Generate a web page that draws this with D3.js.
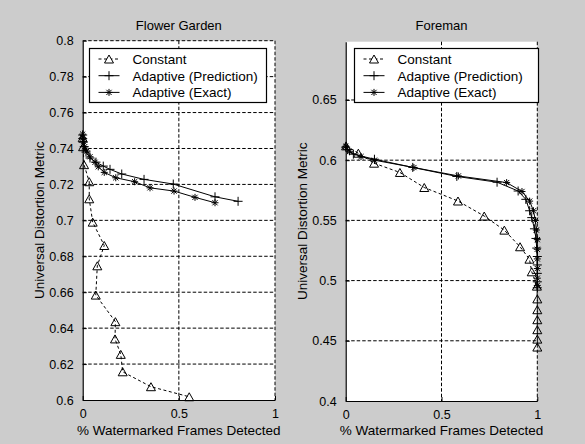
<!DOCTYPE html>
<html>
<head>
<meta charset="utf-8">
<script src="https://cdn.jsdelivr.net/npm/d3@7"></script>
<style>
  html, body { margin: 0; padding: 0; background: #cccccc; }
  svg { display: block; font-family: "Liberation Sans", Arial, sans-serif; }
</style>
</head>
<body>
<svg id="chart" width="585" height="444"></svg>
<script>
// Data
const seriesNames = ["Constant", "Adaptive (Prediction)", "Adaptive (Exact)"];
const xTicks = [0, 0.5, 1];
const xTickLabels = ["0", "0.5", "1"];
const xTitle = "% Watermarked Frames Detected";
const yTitle = "Universal Distortion Metric";

const gardenYTicks = [0.6, 0.62, 0.64, 0.66, 0.68, 0.7, 0.72, 0.74, 0.76, 0.78, 0.8];
const gardenYTickLabels = ["0.6", "0.62", "0.64", "0.66", "0.68", "0.7", "0.72", "0.74", "0.76", "0.78", "0.8"];
const gardenConstant = [
  [0, 0.746], [0.002, 0.741], [0.007, 0.731], [0.034, 0.7215], [0.034, 0.712],
  [0.052, 0.699], [0.112, 0.686], [0.076, 0.6747], [0.068, 0.6584], [0.17, 0.6436],
  [0.168, 0.634], [0.198, 0.6254], [0.208, 0.6157], [0.355, 0.6074], [0.554, 0.6018]
];
const gardenPrediction = [
  [0, 0.7475], [0, 0.7455], [0.003, 0.7435], [0.008, 0.741], [0.017, 0.738],
  [0.038, 0.7347], [0.069, 0.7324], [0.107, 0.7302], [0.142, 0.7284], [0.203, 0.7258],
  [0.319, 0.7228], [0.471, 0.7202], [0.688, 0.7131], [0.808, 0.7106]
];
const gardenExact = [
  [0, 0.748], [0, 0.746], [0.004, 0.744], [0.01, 0.741], [0.022, 0.7386],
  [0.038, 0.7354], [0.064, 0.7323], [0.081, 0.7298], [0.112, 0.7267], [0.172, 0.7237],
  [0.27, 0.7215], [0.35, 0.7181], [0.475, 0.7163], [0.584, 0.7128], [0.688, 0.7098]
];

const foremanYTicks = [0.4, 0.45, 0.5, 0.55, 0.6, 0.65];
const foremanYTickLabels = ["0.4", "0.45", "0.5", "0.55", "0.6", "0.65"];
const foremanConstant = [
  [0.002, 0.6119], [0.066, 0.6058], [0.148, 0.5975], [0.283, 0.5898], [0.41, 0.5773],
  [0.586, 0.5661], [0.723, 0.5536], [0.828, 0.5419], [0.91, 0.5281], [0.959, 0.5178],
  [0.971, 0.5073], [0.998, 0.4954], [1, 0.4848], [1, 0.4758], [1, 0.4675],
  [1, 0.4592], [1, 0.4514], [1, 0.4448]
];
const foremanPrediction = [
  [0, 0.6108], [0.01, 0.609], [0.04, 0.605], [0.15, 0.6008], [0.35, 0.594],
  [0.58, 0.5865], [0.79, 0.5817], [0.9, 0.5744], [0.94, 0.5675], [0.96, 0.558],
  [0.971, 0.5523], [0.985, 0.543], [0.993, 0.535], [0.997, 0.527], [1, 0.52],
  [1, 0.513], [1, 0.506], [1, 0.499], [1, 0.494]
];
const foremanExact = [
  [0, 0.6115], [0.02, 0.607], [0.08, 0.603], [0.15, 0.6], [0.356, 0.5939],
  [0.588, 0.5869], [0.84, 0.5814], [0.92, 0.574], [0.96, 0.566], [0.98, 0.558],
  [0.99, 0.55], [0.995, 0.542], [1, 0.534], [1, 0.526], [1, 0.518],
  [1, 0.51], [1, 0.502], [1, 0.496]
];

const svg = d3.select("#chart");

// marker shapes (MATLAB-ish ^, + and *)
const markers = {
  tri: "M0,-4L4.5,4L-4.5,4Z",
  plus: "M-4.5,0H4.5M0,-4.5V4.5",
  star: "M-3.5,0H3.5M0,-3.5V3.5M-2.6,-2.6L2.6,2.6M-2.6,2.6L2.6,-2.6"
};
const styles = [
  { marker: markers.tri, dash: "3,2.5" },
  { marker: markers.plus, dash: null },
  { marker: markers.star, dash: null }
];

function drawPanel(p) {
  const x = d3.scaleLinear().domain([0, 1]).range([p.left, p.right]);
  const y = d3.scaleLinear().domain(p.yDomain).range([p.bottom, p.top]);
  const g = svg.append("g");

  g.append("rect")
    .attr("x", p.left).attr("y", p.top)
    .attr("width", p.right - p.left).attr("height", p.bottom - p.top)
    .attr("fill", "white");

  // grid
  g.selectAll(".hgrid")
    .data(p.yTicks.filter((t) => t !== p.yDomain[0]))
    .enter().append("line")
    .attr("x1", p.left).attr("x2", p.right)
    .attr("y1", (d) => y(d)).attr("y2", (d) => y(d))
    .attr("stroke", "black").attr("stroke-dasharray", "3.5,2");
  g.selectAll(".vgrid")
    .data(xTicks.filter((t) => t !== 0))
    .enter().append("line")
    .attr("x1", (d) => x(d)).attr("x2", (d) => x(d))
    .attr("y1", p.top).attr("y2", p.bottom)
    .attr("stroke", "black").attr("stroke-dasharray", "3.5,2");

  // axes (ticks point inwards)
  const yAxis = d3.axisLeft(y).tickValues(p.yTicks)
    .tickFormat((d, i) => p.yTickLabels[i]).tickSizeInner(-4).tickSizeOuter(0).tickPadding(9);
  const xAxis = d3.axisBottom(x).tickValues(xTicks)
    .tickFormat((d, i) => xTickLabels[i]).tickSizeInner(-4).tickSizeOuter(0).tickPadding(9);

  const ya = g.append("g").attr("transform", `translate(${p.left},0)`).call(yAxis);
  const xa = g.append("g").attr("transform", `translate(0,${p.bottom})`).call(xAxis);
  [ya, xa].forEach((a) => {
    a.select(".domain").attr("stroke", "black").attr("stroke-width", 1.2);
    a.selectAll(".tick line").attr("stroke", "black");
    a.selectAll("text").attr("font-size", 12.5).attr("fill", "black")
      .attr("font-family", "'Liberation Sans', Arial, sans-serif");
  });

  // series
  const line = d3.line().x((d) => x(d[0])).y((d) => y(d[1]));
  p.series.forEach((s, i) => {
    const st = styles[i];
    g.append("path").datum(s)
      .attr("d", line).attr("fill", "none").attr("stroke", "black")
      .attr("stroke-width", 1)
      .attr("stroke-dasharray", st.dash);
    g.selectAll(null).data(s).enter().append("path")
      .attr("d", st.marker)
      .attr("transform", (d) => `translate(${x(d[0])},${y(d[1])})`)
      .attr("fill", "none").attr("stroke", "black").attr("stroke-width", 1);
  });

  // title and labels
  g.append("text").attr("x", (p.left + p.right) / 2).attr("y", 29.5)
    .attr("text-anchor", "middle").attr("font-size", 13).text(p.title);
  g.append("text").attr("x", (p.left + p.right) / 2).attr("y", 435)
    .attr("text-anchor", "middle").attr("font-size", 13.5).text(xTitle);
  g.append("text")
    .attr("transform", `translate(${p.yTitleX},${(p.top + p.bottom) / 2}) rotate(-90)`)
    .attr("text-anchor", "middle").attr("font-size", 13.5).text(yTitle);

  // legend
  const lg = g.append("g").attr("transform", `translate(${p.legendX},48.5)`);
  lg.append("rect").attr("width", p.legendW).attr("height", 54)
    .attr("fill", "white").attr("stroke", "black").attr("stroke-width", 1.2);
  seriesNames.forEach((name, i) => {
    const ry = 10.5 + i * 16.7;
    const st = styles[i];
    lg.append("line").attr("x1", 9).attr("x2", 30).attr("y1", ry).attr("y2", ry)
      .attr("stroke", "black").attr("stroke-dasharray", st.dash);
    lg.append("path").attr("d", st.marker)
      .attr("transform", `translate(19.5,${ry})`)
      .attr("fill", i === 0 ? "white" : "none").attr("stroke", "black");
    lg.append("text").attr("x", 43).attr("y", ry + 4.8)
      .attr("font-size", 13.5).text(name);
  });
}

drawPanel({
  title: "Flower Garden",
  left: 82.7, right: 275, top: 40.7, bottom: 400,
  yDomain: [0.6, 0.8], yTicks: gardenYTicks, yTickLabels: gardenYTickLabels,
  series: [gardenConstant, gardenPrediction, gardenExact],
  yTitleX: 44, legendX: 89.5, legendW: 177
});

drawPanel({
  title: "Foreman",
  left: 345.7, right: 537.3, top: 41.7, bottom: 401,
  yDomain: [0.4, 0.6984], yTicks: foremanYTicks, yTickLabels: foremanYTickLabels,
  series: [foremanConstant, foremanPrediction, foremanExact],
  yTitleX: 306.5, legendX: 354.5, legendW: 184
});
</script>
</body>
</html>
